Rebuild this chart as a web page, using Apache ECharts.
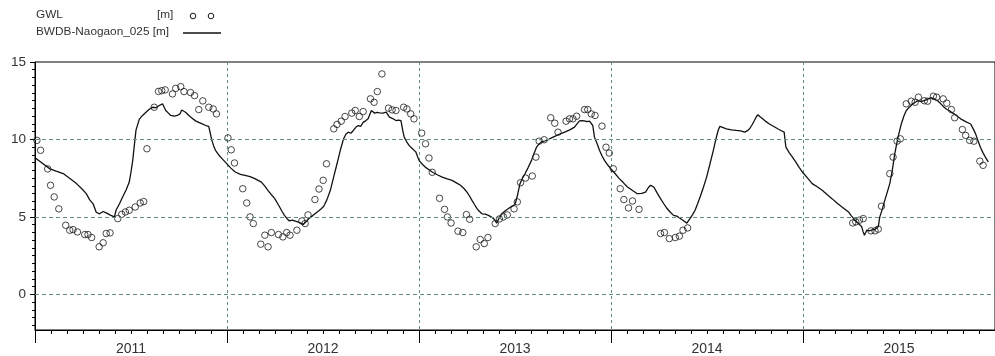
<!DOCTYPE html>
<html>
<head>
<meta charset="utf-8">
<script src="https://cdn.jsdelivr.net/npm/echarts@6/dist/echarts.min.js"></script>
<style>
  html, body { margin: 0; padding: 0; background: #ffffff; }
  #chart { width: 995px; height: 356px; }
</style>
</head>
<body>
<div id="chart"></div>
<script>
// Year labels shown under the time axis (centred in each year)
const yearLabels = ['2011', '2012', '2013', '2014', '2015'];
const yearCentres = [2011.5, 2012.5, 2013.5, 2014.5, 2015.5];

// Horizontal dashed reference levels
const yGridValues = [0, 5, 10];

// Observed groundwater level, [decimal year, m]
const gwl = [
  [2011.010, 9.94], [2011.029, 9.30], [2011.066, 8.10], [2011.081, 7.04], [2011.100, 6.29],
  [2011.124, 5.52], [2011.160, 4.46], [2011.181, 4.14], [2011.198, 4.18], [2011.221, 4.03],
  [2011.259, 3.86], [2011.276, 3.86], [2011.295, 3.67], [2011.334, 3.07], [2011.355, 3.33],
  [2011.371, 3.93], [2011.391, 3.97], [2011.431, 4.89], [2011.452, 5.17], [2011.471, 5.32],
  [2011.491, 5.43], [2011.522, 5.64], [2011.548, 5.90], [2011.566, 5.99], [2011.583, 9.40],
  [2011.621, 12.08], [2011.643, 13.10], [2011.660, 13.15], [2011.678, 13.20], [2011.716, 12.94],
  [2011.733, 13.30], [2011.759, 13.41], [2011.776, 13.09], [2011.810, 13.03], [2011.831, 12.83],
  [2011.853, 11.93], [2011.874, 12.49], [2011.905, 12.08], [2011.928, 11.97], [2011.945, 11.65],

  [2012.005, 10.10], [2012.022, 9.33], [2012.039, 8.48], [2012.082, 6.82], [2012.103, 5.90],
  [2012.120, 5.00], [2012.137, 4.57], [2012.176, 3.24], [2012.197, 3.82], [2012.214, 3.07],
  [2012.231, 3.99], [2012.268, 3.86], [2012.291, 3.71], [2012.311, 3.99], [2012.328, 3.82],
  [2012.364, 4.14], [2012.390, 4.74], [2012.407, 4.57], [2012.422, 5.13], [2012.458, 6.12],
  [2012.479, 6.80], [2012.501, 7.36], [2012.518, 8.43], [2012.556, 10.69], [2012.573, 10.97],
  [2012.595, 11.18], [2012.615, 11.48], [2012.650, 11.70], [2012.668, 11.87], [2012.689, 11.48],
  [2012.709, 11.80], [2012.747, 12.62], [2012.766, 12.40], [2012.783, 13.09], [2012.807, 14.23],
  [2012.841, 12.02], [2012.860, 11.91], [2012.880, 11.87], [2012.920, 12.08], [2012.937, 11.97],
  [2012.957, 11.65], [2012.974, 11.33],

  [2013.014, 10.41], [2013.034, 9.72], [2013.052, 8.80], [2013.069, 7.88], [2013.107, 6.20],
  [2013.133, 5.49], [2013.148, 5.00], [2013.167, 4.61], [2013.203, 4.08], [2013.228, 3.99],
  [2013.247, 5.15], [2013.264, 4.85], [2013.298, 3.07], [2013.319, 3.54], [2013.340, 3.28],
  [2013.359, 3.67], [2013.397, 4.57], [2013.419, 4.87], [2013.440, 5.00], [2013.460, 5.13],
  [2013.495, 5.52], [2013.512, 5.97], [2013.529, 7.21], [2013.555, 7.51], [2013.590, 7.64],
  [2013.609, 8.86], [2013.626, 9.89], [2013.652, 9.98], [2013.686, 11.40], [2013.707, 11.05],
  [2013.724, 10.47], [2013.766, 11.18], [2013.784, 11.33], [2013.802, 11.33], [2013.821, 11.50],
  [2013.862, 11.93], [2013.879, 11.93], [2013.897, 11.65], [2013.917, 11.55], [2013.953, 10.86],
  [2013.974, 9.50], [2013.991, 9.12],

  [2014.012, 8.11], [2014.048, 6.82], [2014.067, 6.12], [2014.091, 5.58], [2014.112, 6.03],
  [2014.146, 5.49], [2014.258, 3.93], [2014.278, 3.99], [2014.304, 3.60], [2014.335, 3.67],
  [2014.356, 3.76], [2014.375, 4.14], [2014.399, 4.29],

  [2015.259, 4.61], [2015.275, 4.68], [2015.294, 4.79], [2015.314, 4.89], [2015.354, 4.10],
  [2015.375, 4.10], [2015.392, 4.21], [2015.409, 5.69], [2015.452, 7.79], [2015.469, 8.86],
  [2015.490, 9.89], [2015.507, 10.04], [2015.538, 12.30], [2015.564, 12.47], [2015.584, 12.40],
  [2015.601, 12.73], [2015.632, 12.50], [2015.649, 12.47], [2015.679, 12.79], [2015.696, 12.73],
  [2015.730, 12.62], [2015.749, 12.34], [2015.773, 11.93], [2015.790, 11.40], [2015.830, 10.64],
  [2015.847, 10.26], [2015.868, 9.94], [2015.890, 9.89], [2015.921, 8.60], [2015.938, 8.33]
];

// Simulated level at station BWDB-Naogaon_025, [decimal year, m]
const bwdb = [
  [2011.000, 8.82], [2011.040, 8.45], [2011.078, 8.10], [2011.110, 7.95], [2011.147, 7.80],
  [2011.180, 7.50], [2011.216, 7.15], [2011.245, 6.80], [2011.267, 6.50], [2011.285, 6.10],
  [2011.302, 5.86], [2011.319, 5.30], [2011.336, 5.20], [2011.355, 5.35], [2011.371, 5.26],
  [2011.395, 5.10], [2011.414, 5.00], [2011.422, 5.43], [2011.440, 5.85], [2011.457, 6.30],
  [2011.475, 6.75], [2011.491, 7.25], [2011.500, 7.90], [2011.509, 8.65], [2011.518, 9.70],
  [2011.526, 10.60], [2011.543, 11.30], [2011.560, 11.55], [2011.578, 11.76], [2011.595, 11.95],
  [2011.612, 12.08], [2011.630, 12.05], [2011.647, 12.19], [2011.664, 12.30], [2011.681, 11.87],
  [2011.695, 11.70], [2011.707, 11.55], [2011.725, 11.50], [2011.741, 11.55], [2011.755, 11.65],
  [2011.764, 11.90], [2011.784, 11.76], [2011.810, 11.45], [2011.836, 11.20], [2011.853, 11.10],
  [2011.871, 11.00], [2011.890, 10.90], [2011.905, 10.84], [2011.912, 10.45], [2011.919, 10.04],
  [2011.930, 9.60], [2011.940, 9.30], [2011.957, 9.00], [2011.974, 8.76], [2011.990, 8.55],

  [2012.000, 8.43], [2012.020, 8.15], [2012.043, 7.90], [2012.070, 7.75], [2012.094, 7.68],
  [2012.120, 7.60], [2012.145, 7.47], [2012.179, 7.25], [2012.196, 7.00], [2012.214, 6.70],
  [2012.230, 6.45], [2012.248, 6.20], [2012.262, 5.90], [2012.274, 5.64], [2012.287, 5.35],
  [2012.299, 5.10], [2012.312, 4.90], [2012.325, 4.74], [2012.340, 4.80], [2012.350, 4.74],
  [2012.368, 4.68], [2012.385, 4.60], [2012.397, 4.50], [2012.405, 4.46], [2012.416, 4.75],
  [2012.427, 4.90], [2012.448, 5.10], [2012.470, 5.32], [2012.488, 5.50], [2012.504, 5.69],
  [2012.520, 6.10], [2012.538, 6.70], [2012.556, 7.60], [2012.573, 8.43], [2012.590, 9.30],
  [2012.607, 10.04], [2012.620, 10.35], [2012.632, 10.47], [2012.645, 10.40], [2012.658, 10.58],
  [2012.672, 10.80], [2012.684, 10.90], [2012.697, 10.85], [2012.709, 11.10], [2012.722, 11.20],
  [2012.735, 11.33], [2012.752, 11.87], [2012.769, 11.70], [2012.782, 11.75], [2012.795, 11.72],
  [2012.812, 11.70], [2012.829, 11.76], [2012.846, 11.44], [2012.863, 11.35], [2012.880, 11.22],
  [2012.894, 11.25], [2012.906, 11.22], [2012.915, 10.60], [2012.923, 10.15], [2012.936, 9.85],
  [2012.949, 9.60], [2012.966, 9.40], [2012.983, 9.20],

  [2013.000, 8.65], [2013.017, 8.40], [2013.034, 8.20], [2013.052, 8.05], [2013.069, 7.90],
  [2013.095, 7.72], [2013.121, 7.57], [2013.147, 7.45], [2013.172, 7.36], [2013.195, 7.20],
  [2013.216, 7.04], [2013.233, 6.85], [2013.250, 6.60], [2013.263, 6.35], [2013.276, 6.07],
  [2013.289, 5.80], [2013.302, 5.54], [2013.315, 5.35], [2013.328, 5.20], [2013.345, 5.18],
  [2013.362, 5.10], [2013.375, 5.00], [2013.388, 4.90], [2013.397, 4.75], [2013.405, 4.60],
  [2013.418, 4.95], [2013.431, 5.20], [2013.448, 5.38], [2013.466, 5.54], [2013.483, 5.68],
  [2013.500, 5.80], [2013.513, 6.40], [2013.526, 7.15], [2013.539, 7.50], [2013.552, 7.79],
  [2013.569, 8.20], [2013.586, 8.65], [2013.599, 9.10], [2013.612, 9.50], [2013.625, 9.70],
  [2013.638, 9.83], [2013.655, 9.90], [2013.672, 9.98], [2013.690, 10.10], [2013.707, 10.20],
  [2013.733, 10.35], [2013.759, 10.47], [2013.785, 10.62], [2013.810, 10.80], [2013.823, 11.00],
  [2013.836, 11.20], [2013.849, 11.22], [2013.862, 11.20], [2013.875, 11.15], [2013.888, 11.18],
  [2013.905, 10.90], [2013.914, 10.15], [2013.927, 9.75], [2013.940, 9.30], [2013.953, 8.95],
  [2013.966, 8.65], [2013.983, 8.35],

  [2014.000, 8.10], [2014.021, 7.80], [2014.043, 7.47], [2014.065, 7.20], [2014.086, 6.93],
  [2014.112, 6.70], [2014.137, 6.50], [2014.160, 6.52], [2014.180, 6.60], [2014.195, 6.90],
  [2014.206, 7.04], [2014.223, 6.93], [2014.240, 6.55], [2014.258, 6.18], [2014.275, 5.85],
  [2014.292, 5.54], [2014.309, 5.30], [2014.326, 5.10], [2014.343, 5.05], [2014.361, 4.90],
  [2014.378, 4.75], [2014.395, 4.60], [2014.403, 4.55], [2014.412, 4.90], [2014.425, 5.15],
  [2014.438, 5.43], [2014.451, 5.85], [2014.464, 6.29], [2014.481, 6.90], [2014.498, 7.57],
  [2014.515, 8.40], [2014.533, 9.30], [2014.546, 10.00], [2014.558, 10.58], [2014.567, 10.85],
  [2014.576, 10.97], [2014.588, 10.75], [2014.601, 10.69], [2014.627, 10.62], [2014.653, 10.58],
  [2014.675, 10.55], [2014.696, 10.47], [2014.709, 10.55], [2014.722, 10.69], [2014.735, 10.95],
  [2014.747, 11.22], [2014.756, 11.45], [2014.765, 11.60], [2014.778, 11.45], [2014.790, 11.33],
  [2014.808, 11.15], [2014.825, 11.00], [2014.846, 10.85], [2014.868, 10.69], [2014.885, 10.58],
  [2014.902, 10.47], [2014.906, 10.00], [2014.911, 9.50], [2014.928, 9.15], [2014.945, 8.86],
  [2014.962, 8.55], [2014.980, 8.20],

  [2015.000, 7.85], [2015.024, 7.50], [2015.048, 7.15], [2015.074, 6.95], [2015.100, 6.72],
  [2015.125, 6.45], [2015.151, 6.18], [2015.177, 5.90], [2015.203, 5.64], [2015.220, 5.48],
  [2015.237, 5.32], [2015.250, 5.10], [2015.263, 4.90], [2015.276, 4.72], [2015.289, 4.57],
  [2015.298, 4.45], [2015.306, 4.36], [2015.313, 4.05], [2015.320, 3.82], [2015.332, 4.14],
  [2015.345, 4.10], [2015.357, 4.14], [2015.375, 4.20], [2015.392, 4.36], [2015.400, 5.00],
  [2015.413, 5.50], [2015.426, 6.07], [2015.439, 6.60], [2015.452, 7.15], [2015.465, 8.00],
  [2015.478, 9.08], [2015.495, 10.15], [2015.512, 11.00], [2015.525, 11.50], [2015.538, 11.87],
  [2015.555, 12.10], [2015.572, 12.30], [2015.585, 12.40], [2015.598, 12.50], [2015.615, 12.45],
  [2015.632, 12.50], [2015.650, 12.60], [2015.667, 12.70], [2015.684, 12.60], [2015.701, 12.50],
  [2015.718, 12.30], [2015.735, 12.08], [2015.748, 11.95], [2015.761, 11.87], [2015.774, 11.75],
  [2015.787, 11.65], [2015.804, 11.50], [2015.821, 11.33], [2015.847, 11.15], [2015.873, 11.00],
  [2015.886, 10.70], [2015.899, 10.36], [2015.912, 9.90], [2015.924, 9.50], [2015.937, 9.15],
  [2015.950, 8.86], [2015.965, 8.55]
];

// Vertical layout of the plot: value 15 sits at the top edge, -2.3 at the bottom edge
const plotTop = 62;
const plotHeight = 268;
const yMin = -2.3;
const yMax = 15;
const pxPerUnit = plotHeight / (yMax - yMin);

const gridColor = '#5f8f86';
const textColor = '#333333';
const fontFamily = 'Arial, "Liberation Sans", sans-serif';

const chart = echarts.init(document.getElementById('chart'), null, { renderer: 'canvas' });

chart.setOption({
  backgroundColor: '#ffffff',
  animation: false,
  grid: [
    // main plot
    { left: 35, top: plotTop, width: 970, height: plotHeight,
      show: true, borderColor: '#000000', borderWidth: 1, backgroundColor: 'transparent' },
    // half-metre tick scale, -2 .. 15
    { left: 35, top: plotTop, width: 970, height: pxPerUnit * (yMax + 2), show: false },
    // labelled scale, 0 .. 15
    { left: 35, top: plotTop, width: 970, height: pxPerUnit * yMax, show: false }
  ],
  xAxis: [
    {
      gridIndex: 0, type: 'value', min: 2011, max: 2016, interval: 1,
      axisLine: { show: true, onZero: false, lineStyle: { color: '#000000', width: 1 } },
      axisTick: { show: true, length: 13, lineStyle: { color: '#000000', width: 1 } },
      minorTick: { show: true, splitNumber: 12, length: 4, lineStyle: { color: '#000000', width: 1 } },
      axisLabel: { show: false },
      splitLine: { show: true, showMinLine: false, showMaxLine: false,
        lineStyle: { color: gridColor, type: [3, 3], width: 1 } },
      minorSplitLine: { show: false }
    },
    {
      gridIndex: 0, type: 'value', min: 2011, max: 2016, position: 'bottom',
      axisLine: { show: false, onZero: false }, axisTick: { show: false }, splitLine: { show: false },
      axisLabel: {
        show: true, customValues: yearCentres, margin: 12,
        color: textColor, fontSize: 14, fontFamily: fontFamily,
        formatter: function (v) { return yearLabels[yearCentres.indexOf(v)]; }
      }
    },
    { gridIndex: 1, type: 'value', min: 2011, max: 2016, show: false },
    { gridIndex: 2, type: 'value', min: 2011, max: 2016, show: false }
  ],
  yAxis: [
    {
      gridIndex: 0, type: 'value', min: yMin, max: yMax,
      axisLine: { show: true, onZero: false, lineStyle: { color: '#000000', width: 1 } },
      axisTick: { show: false },
      axisLabel: { show: false },
      splitLine: { show: false }
    },
    {
      gridIndex: 1, type: 'value', min: -2, max: 15, interval: 0.5, position: 'left',
      axisLine: { show: false, onZero: false },
      axisTick: { show: true, length: 3, lineStyle: { color: '#000000', width: 1 } },
      axisLabel: { show: false },
      splitLine: { show: false }
    },
    {
      gridIndex: 2, type: 'value', min: 0, max: 15, interval: 5, position: 'left',
      axisLine: { show: false, onZero: false },
      axisTick: { show: true, length: 5, lineStyle: { color: '#000000', width: 1 } },
      axisLabel: { show: true, margin: 9, color: textColor, fontSize: 13.5, fontFamily: fontFamily },
      splitLine: { show: false }
    }
  ],
  series: [
    {
      name: 'BWDB-Naogaon_025', type: 'line', data: bwdb,
      xAxisIndex: 0, yAxisIndex: 0,
      showSymbol: false, smooth: false,
      lineStyle: { color: '#111111', width: 1.3 },
      z: 3,
      markLine: {
        silent: true, symbol: ['none', 'none'], animation: false,
        label: { show: false },
        lineStyle: { color: gridColor, type: [4, 3], width: 1 },
        data: yGridValues.map(function (v) { return { yAxis: v }; })
      }
    },
    {
      name: 'GWL', type: 'scatter', data: gwl,
      xAxisIndex: 0, yAxisIndex: 0,
      symbol: 'circle', symbolSize: 6.5,
      itemStyle: { color: 'rgba(255,255,255,0)', borderColor: '#1a1a1a', borderWidth: 1 },
      z: 4
    }
  ],
  graphic: [
    { type: 'text', left: 36, top: 9,
      style: { text: 'GWL', fill: textColor, font: '11.8px ' + fontFamily } },
    { type: 'text', left: 157, top: 9,
      style: { text: '[m]', fill: textColor, font: '11.8px ' + fontFamily } },
    { type: 'circle', shape: { cx: 193, cy: 16, r: 2.8 },
      style: { fill: 'none', stroke: '#1a1a1a', lineWidth: 1 } },
    { type: 'circle', shape: { cx: 211, cy: 16, r: 2.8 },
      style: { fill: 'none', stroke: '#1a1a1a', lineWidth: 1 } },
    { type: 'text', left: 36, top: 26,
      style: { text: 'BWDB-Naogaon_025 [m]', fill: textColor, font: '11.8px ' + fontFamily } },
    { type: 'line', shape: { x1: 183, y1: 33, x2: 221, y2: 33 },
      style: { stroke: '#111111', lineWidth: 1.3 } }
  ]
});
</script>
</body>
</html>
